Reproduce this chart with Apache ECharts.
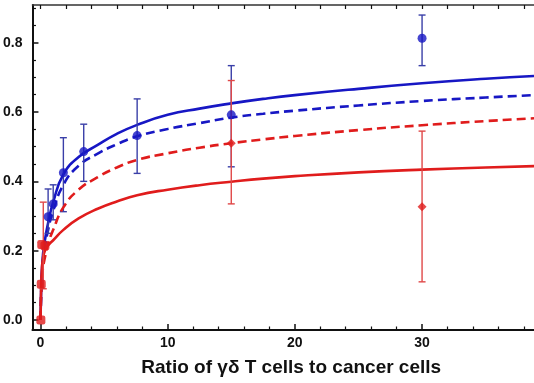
<!DOCTYPE html>
<html><head><meta charset="utf-8">
<script src="https://cdn.jsdelivr.net/npm/echarts@6/dist/echarts.min.js"></script>
<style>html,body{margin:0;padding:0;background:#fff}#c{width:534px;height:383px}</style>
</head><body><div id="c"></div>
<script>
// Fitted curves, read at common x samples
const curveX = [0,0.05,0.1,0.2,0.35,0.6,1,1.8,3,4.5,6,7.6,10,12.5,15,17.5,20,25,30,35,38.8];
const blueSolid = [0,0.08,0.13,0.19,0.23,0.28,0.34,0.42,0.47,0.505,0.537,0.563,0.592,0.61,0.625,0.638,0.649,0.667,0.683,0.696,0.704];
const blueDashed = [0,0.07,0.12,0.17,0.21,0.26,0.315,0.39,0.445,0.48,0.507,0.53,0.551,0.568,0.584,0.595,0.604,0.619,0.632,0.642,0.649];
const redDashed = [0,0.07,0.11,0.15,0.18,0.22,0.26,0.325,0.376,0.412,0.44,0.462,0.481,0.497,0.51,0.521,0.531,0.548,0.562,0.574,0.582];
const redSolid = [0,0.09,0.14,0.18,0.2,0.215,0.23,0.26,0.293,0.321,0.342,0.36,0.376,0.389,0.399,0.408,0.415,0.426,0.434,0.44,0.444];

// Measured points with error bars
const blueX = [0.6,1.0,1.8,3.4,7.6,15,30];
const blueY = [0.298,0.335,0.425,0.486,0.532,0.592,0.813];
const blueLow = [0.25,0.289,0.3125,0.40,0.423,0.442,0.734];
const blueHigh = [0.378,0.39,0.526,0.565,0.638,0.734,0.88];

const redSqX = [0.03,0.06,0.1,0.35];
const redSqY = [0.0,0.103,0.218,0.214];
const redDiaX = [15,30];
const redDiaY = [0.51,0.327];
const redErrX = [0.22,15,30];
const redLow = [0.09,0.335,0.11];
const redHigh = [0.34,0.691,0.545];

const xMajor = [0,10,20,30];
const xMinor = [2,4,6,8,12,14,16,18,22,24,26,28,32,34,36,38];
const xAll = [0,2,4,6,8,10,12,14,16,18,20,22,24,26,28,30,32,34,36,38];
const yMajor = [0,0.2,0.4,0.6,0.8];
const yMinor = [0.05,0.1,0.15,0.25,0.3,0.35,0.45,0.5,0.55,0.65,0.7,0.75,0.85,0.9];

const BLUE = '#1717c4', RED = '#e01c1c', BLUE_ERR = '#3a3fa8', RED_ERR = '#e04848';
const XMIN = -0.63, XMAX = 38.8, YMIN = -0.029, YMAX = 0.909;

function pairs(xs, ys){ return xs.map((x,i)=>[x, ys[i]]); }
function errData(xs, lo, hi){ return xs.map((x,i)=>[x, lo[i], hi[i]]); }
function errRender(color){
  return function(params, api){
    const x = api.value(0);
    const p1 = api.coord([x, api.value(1)]);
    const p2 = api.coord([x, api.value(2)]);
    const w = 3.5;
    const st = {stroke: color, lineWidth: 1.4};
    return {type:'group', children:[
      {type:'line', shape:{x1:p1[0], y1:p1[1], x2:p2[0], y2:p2[1]}, style:st},
      {type:'line', shape:{x1:p1[0]-w, y1:p1[1], x2:p1[0]+w, y2:p1[1]}, style:st},
      {type:'line', shape:{x1:p2[0]-w, y1:p2[1], x2:p2[0]+w, y2:p2[1]}, style:st}
    ]};
  };
}
const lbl = {fontFamily:'Liberation Sans, Arial, sans-serif', fontWeight:'bold', fontSize:14, color:'#111'};
const lineBase = {type:'line', smooth:0.5, showSymbol:false, clip:true};

const chart = echarts.init(document.getElementById('c'), null, {renderer:'canvas'});
chart.setOption({
  animation:false,
  backgroundColor:'#fff',
  grid:{left:32, top:5, right:0, bottom:53, containLabel:false},
  xAxis:[
    {type:'value', min:XMIN, max:XMAX, position:'bottom',
     axisLine:{show:true, onZero:false, lineStyle:{color:'#111', width:2}},
     axisTick:{show:true, inside:true, length:6, customValues:xMajor, lineStyle:{color:'#111', width:1.5}},
     axisLabel:{show:true, customValues:xMajor, margin:6, ...lbl, formatter:v=>String(v)},
     splitLine:{show:false},
     name:'Ratio of \u03b3\u03b4 T cells to cancer cells', nameLocation:'middle', nameGap:28,
     nameTextStyle:{fontFamily:'Liberation Sans, Arial, sans-serif', fontWeight:'bold', fontSize:19, color:'#111', padding:[0,0,0,16]}},
    {type:'value', min:XMIN, max:XMAX, position:'bottom',
     axisLine:{show:false, onZero:false},
     axisTick:{show:true, inside:true, length:3.5, customValues:xMinor, lineStyle:{color:'#111', width:1.2}},
     axisLabel:{show:false}, splitLine:{show:false}},
    {type:'value', min:XMIN, max:XMAX, position:'top',
     axisLine:{show:true, onZero:false, lineStyle:{color:'#333', width:1.5}},
     axisTick:{show:true, inside:true, length:4, customValues:xAll, lineStyle:{color:'#111', width:1.2}},
     axisLabel:{show:false}, splitLine:{show:false}}
  ],
  yAxis:[
    {type:'value', min:YMIN, max:YMAX, position:'left',
     axisLine:{show:true, onZero:false, lineStyle:{color:'#111', width:2}},
     axisTick:{show:true, inside:true, length:6, customValues:yMajor, lineStyle:{color:'#111', width:1.5}},
     axisLabel:{show:true, customValues:yMajor, margin:10, ...lbl, formatter:v=>v.toFixed(1)},
     splitLine:{show:false}},
    {type:'value', min:YMIN, max:YMAX, position:'left',
     axisLine:{show:false, onZero:false},
     axisTick:{show:true, inside:true, length:3.5, customValues:yMinor, lineStyle:{color:'#111', width:1.2}},
     axisLabel:{show:false}, splitLine:{show:false}}
  ],
  series:[
    {...lineBase, data:pairs(curveX, blueSolid), lineStyle:{color:BLUE, width:2.6}, z:2},
    {...lineBase, data:pairs(curveX, blueDashed), lineStyle:{color:BLUE, width:2.6, type:[9,5]}, z:2},
    {type:'custom', data:errData(blueX, blueLow, blueHigh), renderItem:errRender(BLUE_ERR), z:3},
    {...lineBase, data:pairs(curveX, redDashed), lineStyle:{color:RED, width:2.6, type:[9,5]}, z:4},
    {...lineBase, data:pairs(curveX, redSolid), lineStyle:{color:RED, width:2.6}, z:4},
    {type:'custom', data:errData(redErrX, redLow, redHigh), renderItem:errRender(RED_ERR), z:5},
    {type:'scatter', data:pairs(blueX, blueY), symbol:'circle', symbolSize:9, itemStyle:{color:BLUE}, z:6},
    {type:'scatter', data:pairs(redSqX, redSqY), symbol:'roundRect', symbolSize:9, itemStyle:{color:RED}, z:7},
    {type:'scatter', data:pairs(redDiaX, redDiaY), symbol:'diamond', symbolSize:9, itemStyle:{color:RED}, z:7}
  ]
});
</script></body></html>
